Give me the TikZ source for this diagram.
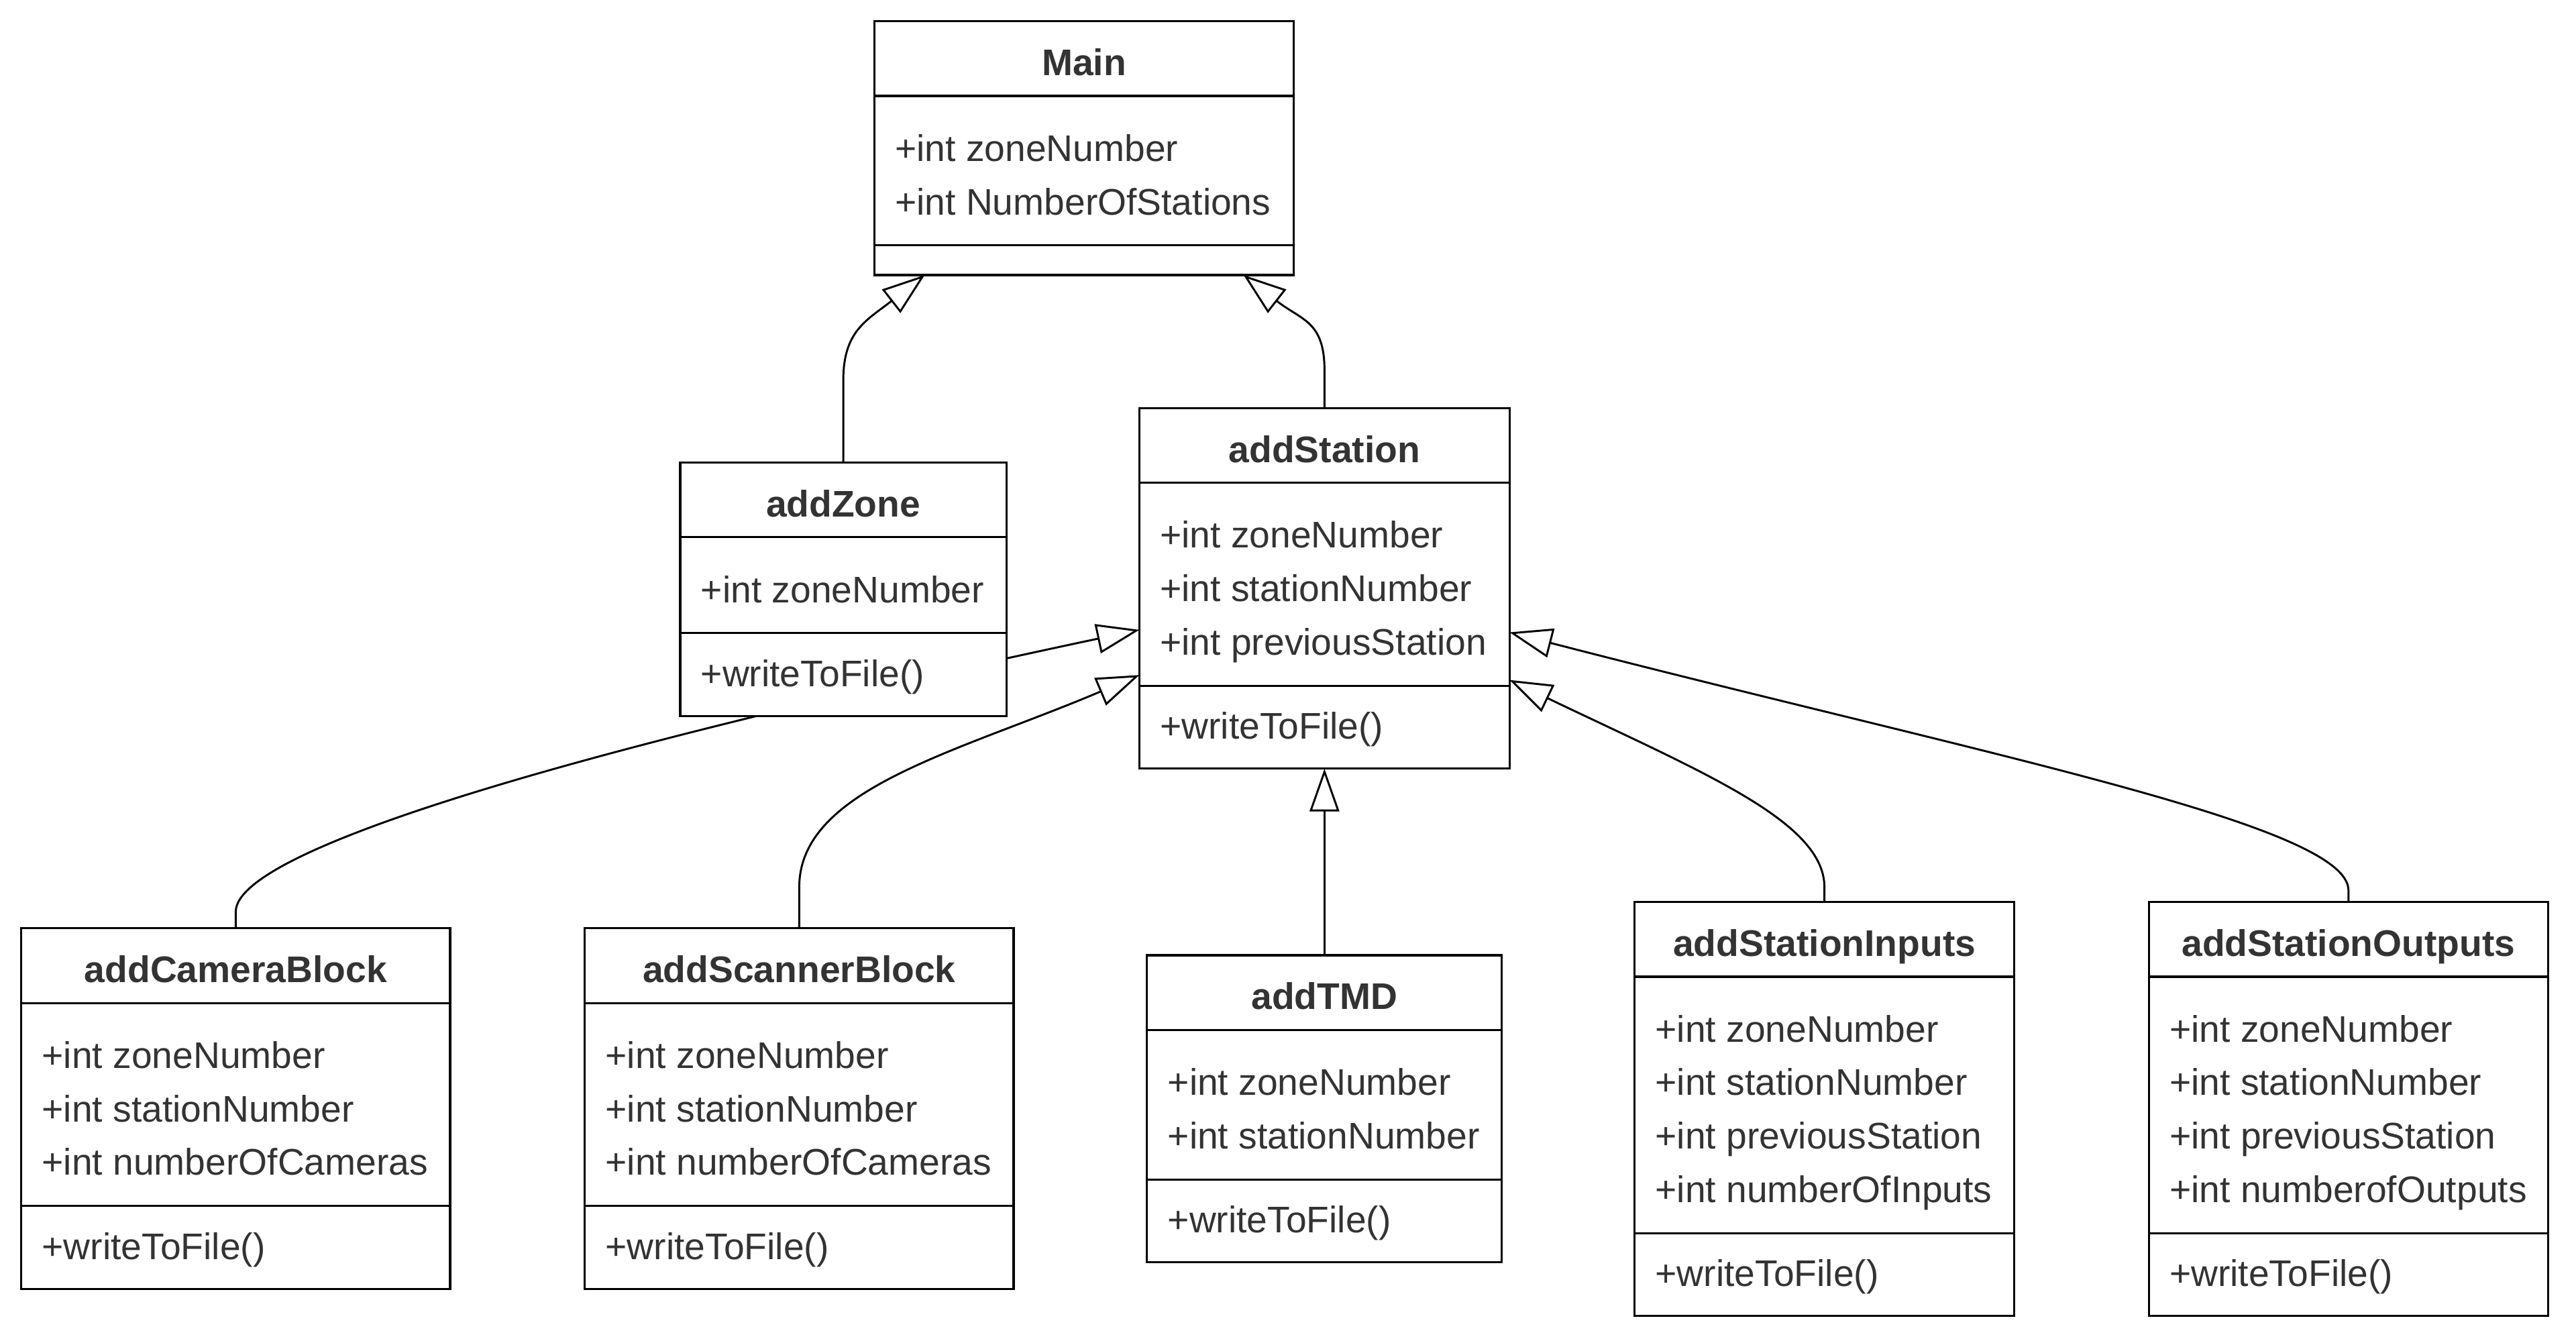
\documentclass[tikz,border=0pt]{standalone}
\usepackage{fontspec}
\setmainfont{Liberation Sans}
\usetikzlibrary{shapes.multipart,arrows.meta,backgrounds}
\definecolor{txt}{HTML}{333333}
\newcommand{\rowpad}[2]{\rule[-#2pt]{0pt}{\dimexpr #1pt+#2pt\relax}}
\newcommand{\hd}[1]{\rowpad{26}{5.5}\textbf{#1}}
\newcommand{\attfirst}{\rowpad{32.7}{0}}
\newcommand{\attlast}{\rowpad{0}{11.7}}
\newcommand{\meth}{\rowpad{25.4}{11}}
\tikzset{
	umlclass/.style={rectangle split,rectangle split parts=3,draw=black,fill=white,line width=1.3pt,
		anchor=north,align=left,rectangle split part align={center,left,left},outer sep=0pt,
		inner xsep=12.6pt,inner ysep=6.35pt,text=txt,font=\fontsize{22.55}{32.6}\selectfont},
	inherit/.style={-{Triangle[open,length=26pt,width=18pt]},line width=1.2pt,draw=black}
}
\begin{document}
\begin{tikzpicture}[x=1pt,y=1pt]
			\useasboundingbox (0,0) rectangle (1568,816);
			\node[umlclass,minimum width=255.4pt] (Main) at (659.9,803.1) {\hd{Main}
				\nodepart{two}\attfirst+int zoneNumber\\+int NumberOfStations\attlast
				\nodepart{three}\rule{0pt}{4pt}};
			\node[umlclass,minimum width=198.5pt] (Zone) at (513.3,534.5) {\hd{addZone}
				\nodepart{two}\attfirst+int zoneNumber\attlast
				\nodepart{three}\meth+writeToFile()};
			\node[umlclass,minimum width=225.3pt] (Station) at (806.2,567.6) {\hd{addStation}
				\nodepart{two}\attfirst+int zoneNumber\\+int stationNumber\\+int previousStation\attlast
				\nodepart{three}\meth+writeToFile()};
			\node[umlclass,minimum width=261pt] (Camera) at (143.5,251) {\hd{addCameraBlock}
				\nodepart{two}\attfirst+int zoneNumber\\+int stationNumber\\+int numberOfCameras\attlast
				\nodepart{three}\meth+writeToFile()};
			\node[umlclass,minimum width=261pt] (Scanner) at (486.5,251) {\hd{addScannerBlock}
				\nodepart{two}\attfirst+int zoneNumber\\+int stationNumber\\+int numberOfCameras\attlast
				\nodepart{three}\meth+writeToFile()};
			\node[umlclass,minimum width=216pt] (TMD) at (806.2,234.5) {\hd{addTMD}
				\nodepart{two}\attfirst+int zoneNumber\\+int stationNumber\attlast
				\nodepart{three}\meth+writeToFile()};
			\node[umlclass,minimum width=231pt] (Inputs) at (1110.5,267) {\hd{addStationInputs}
				\nodepart{two}\attfirst+int zoneNumber\\+int stationNumber\\+int previousStation\\+int numberOfInputs\attlast
				\nodepart{three}\meth+writeToFile()};
			\node[umlclass,minimum width=243pt] (Outputs) at (1429.5,267) {\hd{addStationOutputs}
				\nodepart{two}\attfirst+int zoneNumber\\+int stationNumber\\+int previousStation\\+int numberofOutputs\attlast
				\nodepart{three}\meth+writeToFile()};
			\begin{scope}[on background layer]
				\draw[inherit] (Zone.north) -- ++(0,50) to[out=90,in=218,out distance=30,in distance=45] ([xshift=-97pt]Main.south);
				\draw[inherit] (Station.north) -- ++(0,23) to[out=90,in=-38,out distance=30,in distance=45] ([xshift=97pt]Main.south);
				\draw[inherit] (Camera.north) -- ++(0,10) to[out=90,in=192,out distance=40,in distance=330] ([yshift=-135pt]Station.north west);
				\draw[inherit] (Scanner.north) -- ++(0,25) to[out=90,in=203,out distance=60,in distance=120] ([yshift=-162.5pt]Station.north west);
				\draw[inherit] (TMD.north) -- (Station.south);
				\draw[inherit] (Inputs.north) -- ++(0,9) to[out=90,in=-25.6,out distance=40,in distance=130] ([yshift=-165.5pt]Station.north east);
				\draw[inherit] (Outputs.north) -- ++(0,7) to[out=90,in=-14.5,out distance=40,in distance=300] ([yshift=-136.5pt]Station.north east);
			\end{scope}
		\end{tikzpicture}
\end{document}
